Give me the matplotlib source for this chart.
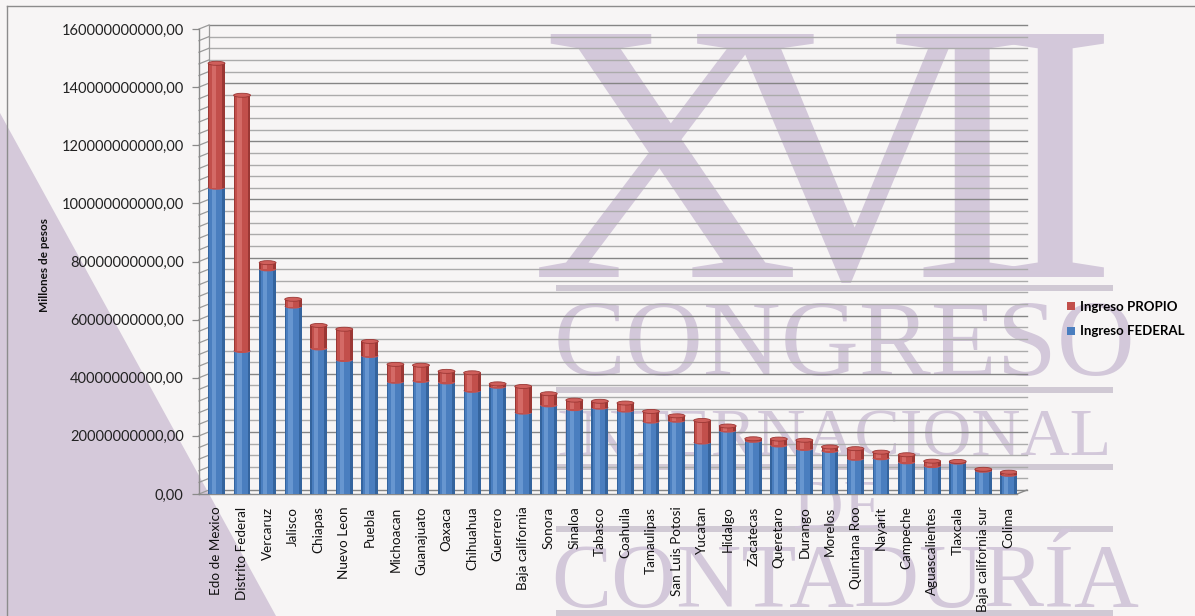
import matplotlib
matplotlib.use("Agg")
import matplotlib.pyplot as plt
from matplotlib.patches import Ellipse, Polygon, Rectangle, Patch
import numpy as np

# ---------------- data (values in thousands of millions of pesos) -------------
estados = ["Edo de Mexico", "Distrito Federal", "Vercaruz", "Jalisco", "Chiapas",
           "Nuevo Leon", "Puebla", "Michoacan", "Guanajuato", "Oaxaca", "Chihuahua",
           "Guerrero", "Baja california", "Sonora", "Sinaloa", "Tabasco", "Coahuila",
           "Tamaulipas", "San Luis Potosi", "Yucatan", "Hidalgo", "Zacatecas",
           "Queretaro", "Durango", "Morelos", "Quintana Roo", "Nayarit", "Campeche",
           "Aguascalientes", "Tlaxcala", "Baja california sur", "Colima"]
ingreso_federal = [105.4, 49.2, 77.3, 64.5, 50.1, 46.1, 47.5, 38.6, 38.9, 38.4, 35.5,
                   36.9, 28.0, 30.5, 29.2, 29.7, 28.7, 24.9, 25.2, 17.7, 21.8, 18.3,
                   16.7, 15.5, 14.8, 12.1, 12.3, 10.9, 9.6, 10.8, 8.0, 6.6]
ingreso_propio = [42.8, 88.0, 2.3, 2.5, 7.9, 10.6, 5.0, 6.0, 5.4, 3.8, 6.2,
                  1.0, 9.0, 4.0, 3.1, 2.2, 2.6, 3.5, 1.7, 7.6, 1.6, 0.7,
                  2.2, 3.0, 1.4, 3.5, 2.1, 2.6, 1.7, 0.4, 0.5, 0.9]
serie_labels = ["Ingreso PROPIO", "Ingreso FEDERAL"]
y_ticks = [0, 20e9, 40e9, 60e9, 80e9, 100e9, 120e9, 140e9, 160e9]
y_label = "Millones de pesos"
watermark_words = ["CONGRESO", "INTERNACIONAL", "DE", "CONTADURÍA"]

SCALE = 1e9
fed = np.array(ingreso_federal) * SCALE
pro = np.array(ingreso_propio) * SCALE
tot = fed + pro

# ---------------- figure ----------------
W, H = 1195, 616
fig = plt.figure(figsize=(W / 100, H / 100), dpi=100)
fig.patch.set_facecolor('#f7f5f5')

# background decoration (pixel coordinates)
bg = fig.add_axes([0, 0, 1, 1], zorder=-5)
bg.set_xlim(0, W)
bg.set_ylim(H, 0)
bg.axis('off')
bg.add_patch(Polygon([(0, 113), (276, H), (0, H)], closed=True, fc='#d5c9da', ec='none'))
bg.plot([7, 7], [6, H], color='#8c8c8c', lw=1)
bg.plot([7, W], [6, 6], color='#8c8c8c', lw=1)

wm = '#d3c8da'
serif = 'Liberation Serif'
px2pt = 72 / 100
# XVII
for ch, cx in zip("XVII", [665, 845, 972, 1055]):
    bg.text(cx, 277, ch, fontsize=372 * px2pt, family=serif, color=wm,
            ha='center', va='baseline')
for yb in [288, 390, 467, 529, 613]:
    bg.add_patch(Rectangle((556, yb - 3), 557, 6, fc='#d0c9d4', ec='none'))
bg.text(845, 375, watermark_words[0], fontsize=108 * px2pt, family=serif, color=wm,
        ha='center', va='baseline')
bg.text(1112, 455, watermark_words[1], fontsize=68 * px2pt, family=serif, color=wm,
        ha='right', va='baseline')
bg.text(840, 528, watermark_words[2], fontsize=70 * px2pt, family=serif, color=wm,
        ha='center', va='baseline')
bg.text(845, 607, watermark_words[3], fontsize=90 * px2pt, family=serif, color=wm,
        ha='center', va='baseline')

# main axes: front-left axis at x=199px, value 0 at y=494px, 160e9 at y=29px
x0, x1 = 199, 1017
yb0, yt = 494, 29
ax = fig.add_axes([x0 / W, (H - yb0) / H, (x1 - x0) / W, (yb0 - yt) / H], zorder=1)
ax.patch.set_alpha(0)
n = len(estados)
xs = np.arange(n)
step_px = 25.56
first_px = 216.5
ax.set_xlim((x0 - first_px) / step_px, (x1 - first_px) / step_px)
ax.set_ylim(0, 160e9)
for s in ax.spines.values():
    s.set_visible(False)

ax_w_px = x1 - x0
ax_h_px = yb0 - yt
dx_ax = 10 / ax_w_px                      # depth offset (axes fraction)
dy_dat = 4 / ax_h_px * 160e9              # depth offset (data units)
ytr = ax.get_yaxis_transform()

# back-wall gridlines + left wall connectors
grid_vals = np.arange(0, 160e9 + 1, 4e9)
for i, v in enumerate(grid_vals):
    major = (i % 5 == 0)
    col = '#858585' if major else '#ababab'
    ax.plot([dx_ax, 1 + dx_ax], [v + dy_dat, v + dy_dat], transform=ytr,
            color=col, lw=1.0, clip_on=False, zorder=1)
    ax.plot([0, dx_ax], [v, v + dy_dat], transform=ytr, color='#9a9a9a', lw=0.9,
            clip_on=False, zorder=1)
# walls/axis lines
ax.plot([0, 0], [0, 160e9], transform=ytr, color='#8a8a8a', lw=1.0, clip_on=False)
ax.plot([dx_ax, dx_ax], [dy_dat, 160e9 + dy_dat], transform=ytr, color='#9a9a9a',
        lw=0.9, clip_on=False)
# floor front edge and right side
ax.plot([0, 1], [0, 0], transform=ytr, color='#8a8a8a', lw=1.0, clip_on=False)
ax.plot([1, 1 + dx_ax], [0, dy_dat], transform=ytr, color='#8a8a8a', lw=1.0,
        clip_on=False)

# ticks
ax.set_yticks(y_ticks)
ax.set_yticklabels([f"{int(v)},00" for v in y_ticks], family='Lato', fontsize=10.5,
                   color='#222222')
ax.tick_params(axis='y', length=5, width=0.9, color='#8a8a8a', pad=6)
ax.set_xticks(xs)
ax.set_xticklabels(estados, rotation=90, family='Lato', fontsize=9.7, color='#111111',
                   ha='center', va='top')
ax.tick_params(axis='x', length=0, pad=9)

# cylinders
blue = dict(dark='#34649e', mid='#4a7ebf', light='#6796d0', cap='#5a8bcb')
red = dict(dark='#9b3734', mid='#c24f4b', light='#d46a66', cap='#cf5f5b')
w = 0.66
eh = 4 / ax_h_px * 160e9


def body(x, bottom, height, c):
    ax.bar(x, height, bottom=bottom, width=w, color=c['dark'], lw=0, zorder=3)
    ax.bar(x - 0.03, height, bottom=bottom, width=w * 0.74, color=c['mid'], lw=0,
           zorder=3)
    ax.bar(x - 0.1, height, bottom=bottom, width=w * 0.26, color=c['light'], lw=0,
           zorder=3)


for i in range(n):
    x = xs[i]
    # federal
    ax.add_patch(Ellipse((x, 0), w, eh, fc=blue['dark'], ec='none', zorder=3))
    body(x, 0, fed[i], blue)
    ax.add_patch(Ellipse((x, fed[i]), w, eh, fc=blue['cap'], ec='none', zorder=3))
    # propio
    ax.add_patch(Ellipse((x, fed[i]), w, eh, fc=red['mid'], ec='none', zorder=3))
    body(x, fed[i], pro[i], red)
    ax.add_patch(Ellipse((x, tot[i]), w, eh, fc=red['cap'], ec=red['dark'], lw=0.6,
                         zorder=3))

# y label
fig.text(44 / W, 1 - 265 / H, y_label, rotation=90, family='Lato', weight='bold',
         fontsize=8.5, ha='center', va='center', color='#111111')

# legend
handles = [Patch(fc=red['mid'], ec='none'), Patch(fc=blue['mid'], ec='none')]
fig.legend(handles, serie_labels, loc='upper left', bbox_to_anchor=(1055 / W, 1 - 289 / H),
           frameon=False, prop=dict(family='Lato', weight='bold', size=9.5),
           handlelength=0.6, handleheight=0.6, handletextpad=0.4, labelspacing=0.95)

fig.savefig('out.png', dpi=100, facecolor=fig.get_facecolor())
